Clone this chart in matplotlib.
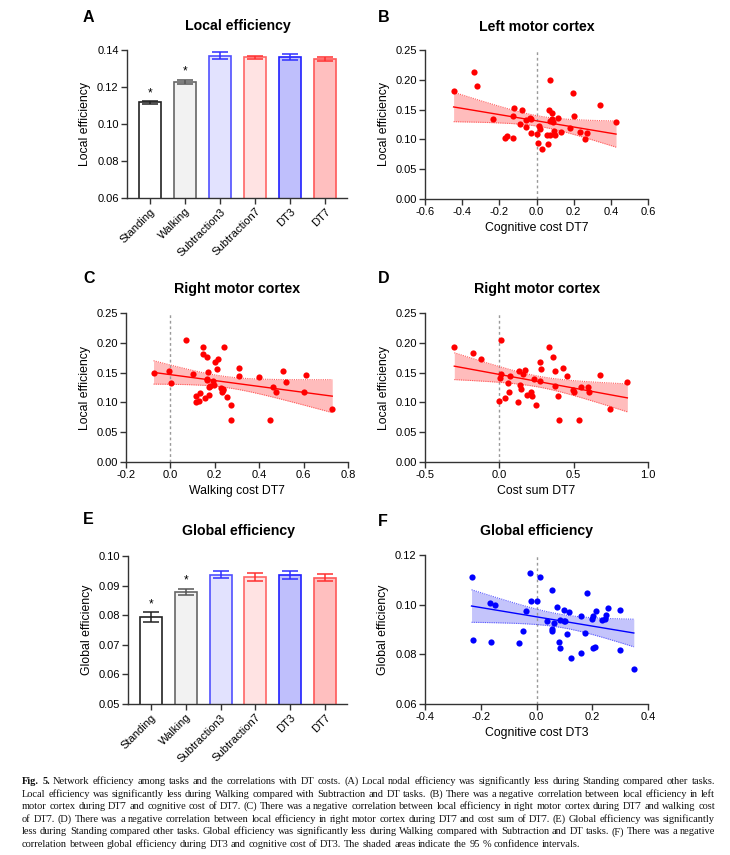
import matplotlib
matplotlib.use("Agg")
import matplotlib.pyplot as plt
import numpy as np

plt.rcParams['font.family'] = ['Liberation Sans', 'DejaVu Sans']

# ---------------- data ----------------
categories = ['Standing', 'Walking', 'Subtraction3', 'Subtraction7', 'DT3', 'DT7']
local_mean = [0.1117, 0.1226, 0.1369, 0.1360, 0.1363, 0.1350]
local_sem = [0.0007, 0.0012, 0.0020, 0.0010, 0.0017, 0.0010]
global_mean = [0.0794, 0.0878, 0.0937, 0.0928, 0.0935, 0.0927]
global_sem = [0.0016, 0.0011, 0.0012, 0.0013, 0.0014, 0.0012]
significant = [True, True, False, False, False, False]

# B: Left motor cortex, local efficiency vs cognitive cost DT7
b_x = [-0.446, -0.339, -0.319, -0.236, -0.167, -0.161, -0.129, -0.129, -0.120, -0.077,
       -0.090, -0.057, -0.057, -0.036, -0.027, -0.027, 0.005, 0.009, 0.0125, 0.020,
       0.027, 0.054, 0.061, 0.066, 0.072, 0.073, 0.072, 0.081, 0.086, 0.088,
       0.095, 0.0985, 0.118, 0.131, 0.181, 0.197, 0.200, 0.235, 0.263, 0.272,
       0.342, 0.428]
b_y = [0.182, 0.2125, 0.190, 0.1334, 0.1026, 0.1054, 0.102, 0.139, 0.1525, 0.149,
       0.1256, 0.1323, 0.121, 0.1357, 0.1334, 0.111, 0.1087, 0.0947, 0.122, 0.118,
       0.0846, 0.107, 0.092, 0.149, 0.199, 0.107, 0.131, 0.1446, 0.1334, 0.130,
       0.1143, 0.108, 0.136, 0.1127, 0.1188, 0.1777, 0.139, 0.1127, 0.1009, 0.111,
       0.1575, 0.1284]

# C: Right motor cortex, local efficiency vs walking cost DT7
c_x = [-0.076, -0.008, 0.001, 0.070, 0.101, 0.116, 0.116, 0.127, 0.134, 0.145,
       0.145, 0.158, 0.164, 0.164, 0.164, 0.170, 0.172, 0.176, 0.178, 0.191,
       0.196, 0.199, 0.208, 0.215, 0.226, 0.233, 0.238, 0.242, 0.239, 0.253,
       0.272, 0.275, 0.308, 0.311, 0.400, 0.447, 0.462, 0.475, 0.508, 0.520,
       0.600, 0.609, 0.729]
c_y = [0.1485, 0.153, 0.1323, 0.2046, 0.1474, 0.1099, 0.1009, 0.1026, 0.1166, 0.1923,
       0.1816, 0.1076, 0.1766, 0.1401, 0.1379, 0.1513, 0.1256, 0.1121, 0.1267, 0.1362,
       0.1284, 0.1676, 0.1553, 0.1726, 0.1239, 0.1172, 0.1222, 0.1928, 0.121, 0.1093,
       0.0712, 0.0964, 0.1435, 0.158, 0.143, 0.0706, 0.125, 0.1172, 0.153, 0.135,
       0.1172, 0.1457, 0.0891]

# D: Right motor cortex, local efficiency vs cost sum DT7
d_x = [-0.303, -0.175, -0.124, -0.005, 0.006, 0.013, 0.013, 0.038, 0.055, 0.064,
       0.069, 0.125, 0.131, 0.138, 0.147, 0.158, 0.171, 0.185, 0.214, 0.219,
       0.230, 0.246, 0.271, 0.275, 0.279, 0.337, 0.360, 0.376, 0.376, 0.392,
       0.402, 0.425, 0.458, 0.498, 0.500, 0.539, 0.552, 0.599, 0.603, 0.675,
       0.742, 0.861]
d_y = [0.1923, 0.1822, 0.1732, 0.1031, 0.1407, 0.2046, 0.1474, 0.1076, 0.1323, 0.1172,
       0.1435, 0.1009, 0.1519, 0.1295, 0.1233, 0.1474, 0.1536, 0.1121, 0.1172, 0.1099,
       0.1385, 0.0964, 0.1676, 0.1362, 0.1553, 0.1928, 0.1766, 0.153, 0.1272, 0.1099,
       0.0712, 0.158, 0.1435, 0.121, 0.1172, 0.0706, 0.125, 0.125, 0.1172, 0.1457,
       0.0897, 0.135]

# F: Global efficiency vs cognitive cost DT3
f_x = [-0.233, -0.228, -0.167, -0.164, -0.150, -0.061, -0.048, -0.037, -0.023, -0.018,
       0.001, 0.012, 0.037, 0.054, 0.055, 0.057, 0.064, 0.075, 0.081, 0.086,
       0.086, 0.097, 0.100, 0.101, 0.110, 0.117, 0.123, 0.158, 0.160, 0.173,
       0.181, 0.198, 0.203, 0.203, 0.211, 0.215, 0.235, 0.244, 0.248, 0.257,
       0.301, 0.301, 0.349]
f_y = [0.111, 0.0858, 0.1006, 0.0849, 0.0999, 0.0846, 0.0895, 0.0974, 0.1127, 0.1013,
       0.1016, 0.1111, 0.0936, 0.106, 0.0895, 0.0901, 0.0927, 0.099, 0.0849, 0.0826,
       0.094, 0.0935, 0.0977, 0.0934, 0.0881, 0.097, 0.0786, 0.0956, 0.0806, 0.0887,
       0.1048, 0.0944, 0.0954, 0.0824, 0.083, 0.0973, 0.0938, 0.0941, 0.0958, 0.0986,
       0.0819, 0.0979, 0.074]

caption_lines = [
    "Fig. 5. Network efficiency among tasks and the correlations with DT costs. (A) Local nodal efficiency was significantly less during Standing compared other tasks.",
    "Local efficiency was significantly less during Walking compared with Subtraction and DT tasks. (B) There was a negative correlation between local efficiency in left",
    "motor cortex during DT7 and cognitive cost of DT7. (C) There was a negative correlation between local efficiency in right motor cortex during DT7 and walking cost",
    "of DT7. (D) There was a negative correlation between local efficiency in right motor cortex during DT7 and cost sum of DT7. (E) Global efficiency was significantly",
    "less during Standing compared other tasks. Global efficiency was significantly less during Walking compared with Subtraction and DT tasks. (F) There was a negative",
    "correlation between global efficiency during DT3 and cognitive cost of DT3. The shaded areas indicate the 95 % confidence intervals.",
]

# ---------------- styles ----------------
W, H = 730, 855
fig = plt.figure(figsize=(W / 100, H / 100), dpi=100)

bar_fill = ['#ffffff', '#f2f2f2', '#e2e2fe', '#ffe3e3', '#bfbffc', '#ffbfbf']
bar_edge = ['#222222', '#666666', '#5050ff', '#ff6666', '#2020ff', '#ff5858']
err_col = ['#222222', '#555555', '#3030ff', '#ff3030', '#3030ff', '#ff3030']

TICK_FS = 8
LAB_FS = 8.8
TITLE_FS = 10.2
LET_FS = 11.5


def px_axes(l, t, r, b):
    return fig.add_axes([l / W, 1 - b / H, (r - l) / W, (b - t) / H])


def style(ax):
    for s in ['top', 'right']:
        ax.spines[s].set_visible(False)
    for s in ['left', 'bottom']:
        ax.spines[s].set_linewidth(1.0)
        ax.spines[s].set_color('#333333')
    ax.tick_params(direction='out', length=4, width=1.0, color='#333333',
                   labelsize=TICK_FS, pad=2)


def fig_text(x, y, s, **kw):
    return fig.text(x / W, 1 - y / H, s, **kw)


def bar_panel(ax, means, sems, ylim, yticks, ylabel):
    xpos = np.arange(len(categories))
    ax.bar(xpos, means, width=0.63, color=bar_fill, edgecolor=bar_edge,
           linewidth=1.2, zorder=2)
    for i in range(len(categories)):
        ax.errorbar(xpos[i], means[i], yerr=sems[i], color=err_col[i],
                    capsize=5.5, capthick=1.1, elinewidth=1.1, zorder=3)
        if significant[i]:
            ax.annotate('*', (xpos[i], means[i] + sems[i]), xytext=(0, 1.5),
                        textcoords='offset points', ha='center', va='bottom',
                        fontsize=8.5)
    ax.set_xlim(-0.66, 5.63)
    ax.set_ylim(*ylim)
    ax.set_yticks(yticks)
    ax.yaxis.set_major_formatter(matplotlib.ticker.FormatStrFormatter('%.2f'))
    ax.set_xticks(xpos)
    ax.set_xticklabels(categories, rotation=45, ha='right', rotation_mode='anchor',
                       fontsize=TICK_FS)
    ax.set_ylabel(ylabel, fontsize=LAB_FS, labelpad=4)
    style(ax)


def scatter_panel(ax, x, y, color, band, edge, xlim, xticks, ylim, yticks,
                  xlabel, ylabel, xfmt, yfmt):
    x = np.asarray(x)
    y = np.asarray(y)
    n = len(x)
    b, a = np.polyfit(x, y, 1)
    resid = y - (a + b * x)
    s = np.sqrt(np.sum(resid ** 2) / (n - 2))
    sxx = np.sum((x - x.mean()) ** 2)
    xs = np.linspace(x.min(), x.max(), 200)
    yh = a + b * xs
    se = s * np.sqrt(1.0 / n + (xs - x.mean()) ** 2 / sxx)
    t = 2.02
    ax.fill_between(xs, yh - t * se, yh + t * se, color=band, lw=0, zorder=1)
    ax.plot(xs, yh - t * se, color=edge, lw=0.8, ls=(0, (1, 1)), zorder=2)
    ax.plot(xs, yh + t * se, color=edge, lw=0.8, ls=(0, (1, 1)), zorder=2)
    ax.plot(xs, yh, color=color, lw=1.0, zorder=3)
    ax.axvline(0, color='#999999', lw=1.0, ls=(0, (2, 2)), zorder=1)
    ax.scatter(x, y, s=20, color=color, lw=0, zorder=4)
    ax.set_xlim(*xlim)
    ax.set_xticks(xticks)
    ax.set_ylim(*ylim)
    ax.set_yticks(yticks)
    ax.xaxis.set_major_formatter(matplotlib.ticker.FormatStrFormatter(xfmt))
    ax.yaxis.set_major_formatter(matplotlib.ticker.FormatStrFormatter(yfmt))
    ax.set_xlabel(xlabel, fontsize=LAB_FS, labelpad=3)
    ax.set_ylabel(ylabel, fontsize=LAB_FS, labelpad=4)
    style(ax)


RED, RBAND, REDGE = '#ff0000', '#ffbcbc', '#ff5c5c'
BLUE, BBAND, BEDGE = '#0000ff', '#c4c4fb', '#5c5cff'

# A
axA = px_axes(127, 50, 347, 198)
bar_panel(axA, local_mean, local_sem, (0.06, 0.14), np.arange(0.06, 0.1401, 0.02),
          'Local efficiency')
# B
axB = px_axes(425, 50, 648, 199)
scatter_panel(axB, b_x, b_y, RED, RBAND, REDGE, (-0.6, 0.6), np.arange(-0.6, 0.61, 0.2),
              (0, 0.25), np.arange(0, 0.251, 0.05), 'Cognitive cost DT7',
              'Local efficiency', '%.1f', '%.2f')
# C
axC = px_axes(126, 313, 348, 462)
scatter_panel(axC, c_x, c_y, RED, RBAND, REDGE, (-0.2, 0.8), np.arange(-0.2, 0.81, 0.2),
              (0, 0.25), np.arange(0, 0.251, 0.05), 'Walking cost DT7',
              'Local efficiency', '%.1f', '%.2f')
# D
axD = px_axes(425, 313, 648, 462)
scatter_panel(axD, d_x, d_y, RED, RBAND, REDGE, (-0.5, 1.0), np.arange(-0.5, 1.01, 0.5),
              (0, 0.25), np.arange(0, 0.251, 0.05), 'Cost sum DT7',
              'Local efficiency', '%.1f', '%.2f')
# E
axE = px_axes(128, 556, 347, 704)
bar_panel(axE, global_mean, global_sem, (0.05, 0.10), np.arange(0.05, 0.1001, 0.01),
          'Global efficiency')
# F
axF = px_axes(425, 555, 648, 704)
scatter_panel(axF, f_x, f_y, BLUE, BBAND, BEDGE, (-0.4, 0.4), np.arange(-0.4, 0.41, 0.2),
              (0.06, 0.12), np.arange(0.06, 0.1201, 0.02), 'Cognitive cost DT3',
              'Global efficiency', '%.1f', '%.2f')

# titles & letters
titles = [('Local efficiency', 238, 26), ('Left motor cortex', 537, 27),
          ('Right motor cortex', 237, 289), ('Right motor cortex', 537, 289),
          ('Global efficiency', 239, 531), ('Global efficiency', 537, 531)]
for s, x, y in titles:
    fig_text(x, y, s, fontsize=TITLE_FS, fontweight='bold', ha='center', va='center')
letters = [('A', 83, 18), ('B', 378, 18), ('C', 83, 278), ('D', 378, 278),
           ('E', 83, 520), ('F', 378, 521)]
for s, x, y in letters:
    fig_text(x, y, s, fontsize=LET_FS, fontweight='bold', ha='left', va='center')

# caption (justified)
renderer = fig.canvas.get_renderer()
CAP_FAM = ['Liberation Serif', 'DejaVu Serif']
x0, x1 = 22, 715
y0, dy = 784, 12.6   # baselines
SPACE_EM = 0.25
BASE = 10.0


def measure(word, bold, size):
    t = fig.text(0, 0, word, fontsize=size, fontweight='bold' if bold else 'normal',
                 family=CAP_FAM)
    wdt = t.get_window_extent(renderer).width
    t.remove()
    return wdt


# choose the font size so that the justified lines fit with a normal word space
sizes = []
for li, line in enumerate(caption_lines[:-1]):
    words = line.split(' ')
    sw = sum(measure(w, li == 0 and wi < 2, BASE) for wi, w in enumerate(words))
    per_pt = sw / BASE + (len(words) - 1) * SPACE_EM * 100 / 72
    sizes.append((x1 - x0) / per_pt)
CAP_FS = min(sizes)

for li, line in enumerate(caption_lines):
    words = line.split(' ')
    texts = []
    widths = []
    for wi, w in enumerate(words):
        wt = 'bold' if (li == 0 and wi < 2) else 'normal'
        t = fig.text(0, 0, w, fontsize=CAP_FS, fontweight=wt, family=CAP_FAM,
                     va='baseline', ha='left', color='#111111')
        texts.append(t)
        widths.append(t.get_window_extent(renderer).width)
    if li < len(caption_lines) - 1:
        gap = (x1 - x0 - sum(widths)) / (len(words) - 1)
    else:
        gap = SPACE_EM * CAP_FS * 100 / 72
    xc = x0
    yc = y0 + li * dy
    for t, wdt in zip(texts, widths):
        t.set_position((xc / W, 1 - yc / H))
        xc += wdt + gap

fig.savefig('out.png', dpi=100)
